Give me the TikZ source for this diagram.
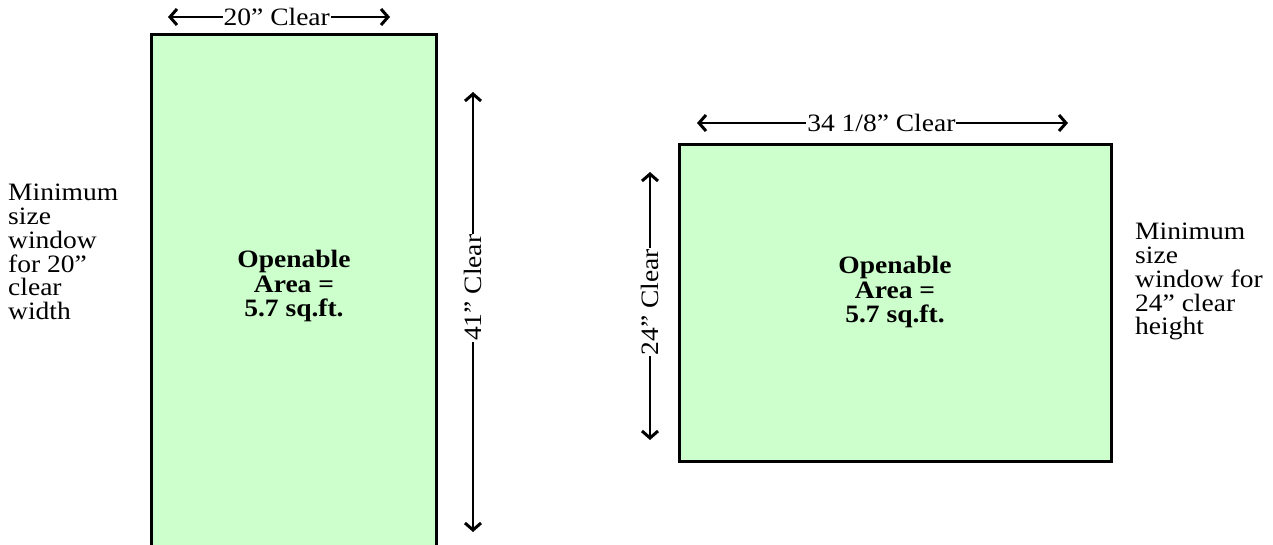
\documentclass[tikz,border=0pt]{standalone}
\usepackage{fontspec}
\setmainfont{Liberation Serif}[FakeStretch=1.1]
\usetikzlibrary{arrows.meta}
\definecolor{glass}{HTML}{CCFFCC}
\tikzset{
  win/.style={draw=black, line width=3pt, fill=glass},
  barb/.tip={Straight Barb[length=7pt,width=16pt,line width=3pt]},
  dim/.style={line width=1.5pt, barb-barb},
  dimlabel/.style={fill=white, inner sep=1pt, font=\fontsize{25}{25}\selectfont},
  note/.style={align=left, inner sep=0pt, anchor=north west, font=\fontsize{25}{23.8}\selectfont},
  areatext/.style={align=center, inner sep=0pt, anchor=north, font=\fontsize{25}{24.5}\selectfont\bfseries},
}
\begin{document}
\begin{tikzpicture}[x=1pt,y=-1pt]
\useasboundingbox (0,0) rectangle (1273,545);
% windows
\path[win] (151.5,34.5) rectangle (436.5,560);
\path[win] (679.5,144.5) rectangle (1111,461);
\node[areatext] (area1) at (294,250) {Openable\\Area =\\5.7 sq.ft.};
\node[areatext] (area2) at (895,256) {Openable\\Area =\\5.7 sq.ft.};
% notes
\node[note] (note1) at (8,184) {Minimum\\size\\window\\for 20”\\clear\\width};
\node[note] (note2) at (1135,223) {Minimum\\size\\window for\\24” clear\\height};
% dimensions
\coordinate (a1) at (168,17); \coordinate (a2) at (390,17);
\draw[dim] (a1) -- (a2) node[dimlabel, pos=0.49] (l1) {20” Clear};
\coordinate (b1) at (473,92); \coordinate (b2) at (473,532);
\draw[dim] (b1) -- (b2) node[dimlabel, pos=0.445, rotate=90] (l2) {41” Clear};
\coordinate (c1) at (697,123); \coordinate (c2) at (1068,123);
\draw[dim] (c1) -- (c2) node[dimlabel, pos=0.497] (l3) {34 1/8” Clear};
\coordinate (d1) at (650,172); \coordinate (d2) at (650,440);
\draw[dim] (d1) -- (d2) node[dimlabel, pos=0.485, rotate=90] (l4) {24” Clear};
\end{tikzpicture}
\end{document}
